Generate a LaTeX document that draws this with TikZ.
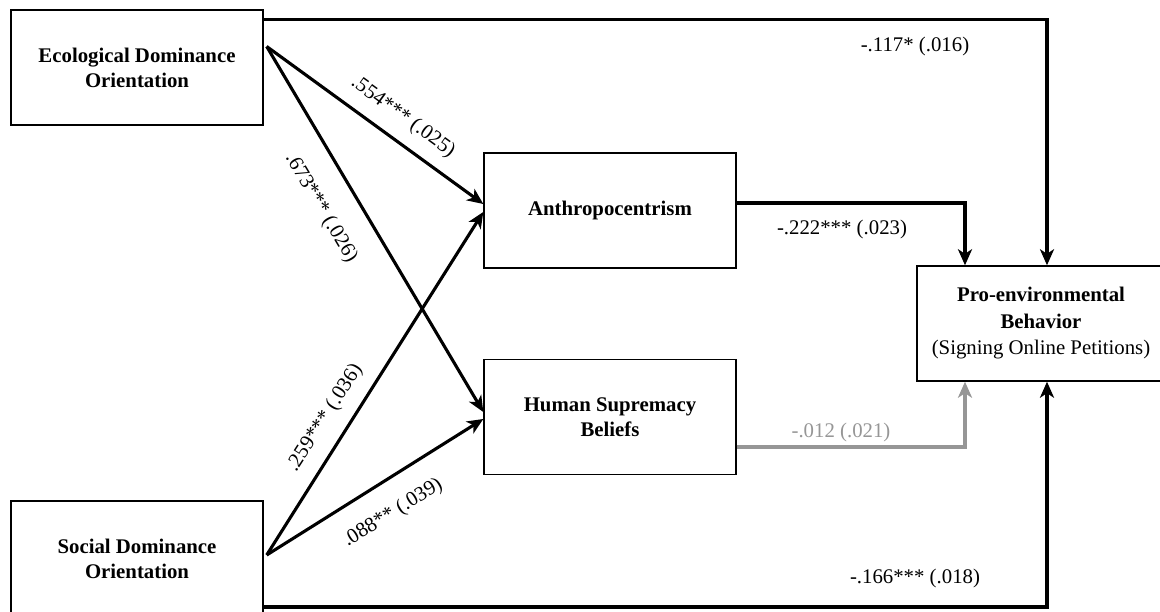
\documentclass[tikz,border=0pt]{standalone}
\usepackage{fontspec}
\setmainfont{Liberation Serif}
\usetikzlibrary{calc,arrows.meta}
\definecolor{nsgray}{RGB}{150,150,150}
\begin{document}
\begin{tikzpicture}[x=1pt,y=-1pt,
  box/.style={draw, line width=1.4pt, minimum width=252pt, minimum height=115pt,
    align=center, inner sep=0pt, font=\bfseries\fontsize{20.8}{25}\selectfont},
  conn/.style={line width=3.1pt, -{Stealth[length=16pt,width=14pt,inset=4.5pt]}},
  nsconn/.style={conn, draw=nsgray},
  lab/.style={font=\fontsize{20.8}{25}\selectfont, inner sep=0pt}]
\useasboundingbox (0,0) rectangle (1160,612);
% boxes
\node[box] (edo) at (137,67.5) {Ecological Dominance\\Orientation};
\node[box] (sdo) at (137,558.5) {Social Dominance\\Orientation};
\node[box] (anth) at (610,210.5) {Anthropocentrism};
\node[box] (hsb) at (610,417) {Human Supremacy\\Beliefs};
\node[box, minimum width=248pt, font=\bfseries\fontsize{20.8}{26.5}\selectfont] (peb) at (1041,323.5)
  {Pro-environmental\\Behavior\\{\mdseries (Signing Online Petitions)}};
% anchor points
\coordinate (edoS) at ($(edo.east)+(3,-21)$);
\coordinate (sdoS) at ($(sdo.east)+(3,-3.5)$);
\coordinate (edoT) at ($(edo.north east)+(0,10)$);
\coordinate (sdoB) at ($(sdo.east)+(0,48.5)$);
% diagonal paths
\draw[conn] (edoS) -- ($(anth.west)+(0,-6.5)$);
\draw[conn] (edoS) -- ($(hsb.west)+(0,-5)$);
\draw[conn] (sdoS) -- ($(anth.west)+(0,1.5)$);
\draw[conn] (sdoS) -- ($(hsb.west)+(0,2)$);
% orthogonal paths
\draw[conn] (edoT) -| ($(peb.north)+(6,0)$);
\draw[conn] ($(anth.east)+(0,-7.5)$) -| ($(peb.north)+(-76,0)$);
\draw[nsconn] ($(hsb.east)+(0,30)$) -| ($(peb.south)+(-76,0)$);
\draw[conn] (sdoB) -| ($(peb.south)+(6,0)$);
% labels
\node[lab] (l117) at (915,47) {-.117* (.016)};
\node[lab] (l222) at (842,229) {-.222*** (.023)};
\node[lab, text=nsgray] (l012) at (841,432) {-.012 (.021)};
\node[lab] (l166) at (915,578) {-.166*** (.018)};
\node[lab, rotate=-36] (l554) at (403,117) {.554*** (.025)};
\node[lab, rotate=-59.3] (l673) at (321,208) {.673*** (.026)};
\node[lab, rotate=57.4] (l259) at (325,418) {.259*** (.036)};
\node[lab, rotate=31.8] (l088) at (393,513) {.088** (.039)};
\end{tikzpicture}
\end{document}
